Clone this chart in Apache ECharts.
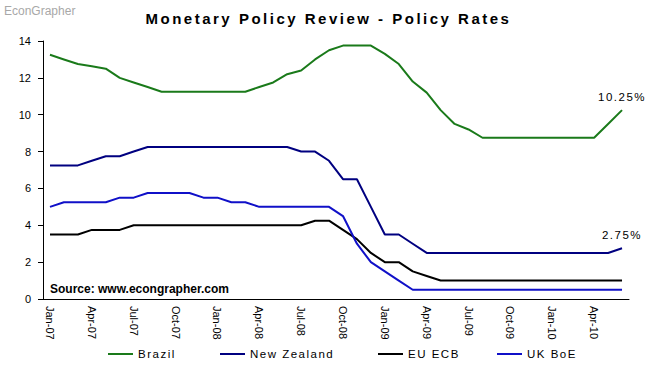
<!DOCTYPE html>
<html>
<head>
<meta charset="utf-8">
<script src="https://cdn.jsdelivr.net/npm/echarts@6/dist/echarts.min.js"></script>
<style>
html,body{margin:0;padding:0;background:#fff}
#c{width:657px;height:366px}
#c svg text[style*="15px"]{letter-spacing:2.5px}
#c svg text[style*="11.5px"]{letter-spacing:1.5px}
</style>
</head>
<body>
<div id="c"></div>
<script>
var categories = ["Jan-07","Feb-07","Mar-07","Apr-07","May-07","Jun-07","Jul-07","Aug-07","Sep-07","Oct-07","Nov-07","Dec-07",
"Jan-08","Feb-08","Mar-08","Apr-08","May-08","Jun-08","Jul-08","Aug-08","Sep-08","Oct-08","Nov-08","Dec-08",
"Jan-09","Feb-09","Mar-09","Apr-09","May-09","Jun-09","Jul-09","Aug-09","Sep-09","Oct-09","Nov-09","Dec-09",
"Jan-10","Feb-10","Mar-10","Apr-10","May-10","Jun-10"];
var brazil = [13.25,13.0,12.75,12.63,12.5,12.0,11.75,11.5,11.25,11.25,11.25,11.25,
11.25,11.25,11.25,11.5,11.75,12.2,12.4,13.0,13.5,13.75,13.75,13.75,
13.3,12.75,11.8,11.2,10.25,9.5,9.2,8.75,8.75,8.75,8.75,8.75,
8.75,8.75,8.75,8.75,9.5,10.25];
var newZealand = [7.25,7.25,7.25,7.5,7.75,7.75,8.0,8.25,8.25,8.25,8.25,8.25,
8.25,8.25,8.25,8.25,8.25,8.25,8.0,8.0,7.5,6.5,6.5,5.0,
3.5,3.5,3.0,2.5,2.5,2.5,2.5,2.5,2.5,2.5,2.5,2.5,
2.5,2.5,2.5,2.5,2.5,2.75];
var euEcb = [3.5,3.5,3.5,3.75,3.75,3.75,4.0,4.0,4.0,4.0,4.0,4.0,
4.0,4.0,4.0,4.0,4.0,4.0,4.0,4.25,4.25,3.75,3.25,2.5,
2.0,2.0,1.5,1.25,1.0,1.0,1.0,1.0,1.0,1.0,1.0,1.0,
1.0,1.0,1.0,1.0,1.0,1.0];
var ukBoe = [5.0,5.25,5.25,5.25,5.25,5.5,5.5,5.75,5.75,5.75,5.75,5.5,
5.5,5.25,5.25,5.0,5.0,5.0,5.0,5.0,5.0,4.5,3.0,2.0,
1.5,1.0,0.5,0.5,0.5,0.5,0.5,0.5,0.5,0.5,0.5,0.5,
0.5,0.5,0.5,0.5,0.5,0.5];
var seriesNames = ['Brazil','New Zealand','EU ECB','UK BoE'];
var endLabels = {"Brazil":"10.25%","New Zealand":"2.75%"};

var font = "Arial, 'Liberation Sans', sans-serif";
function mk(name, arr, color){
  var s = {name:name, type:'line', data:arr, showSymbol:false, symbol:'none',
    lineStyle:{color:color, width:2}, itemStyle:{color:color}, animation:false, z:3};
  if(endLabels[name]){
    var n = arr.length-1;
    s.markPoint = {symbol:'circle', symbolSize:1, itemStyle:{color:'rgba(0,0,0,0)'}, animation:false,
      data:[{coord:[categories[n], arr[n]],
        label:{show:true, position:'top', distance:7, formatter:endLabels[name],
          color:'#000', fontSize:11.5, fontFamily:font}}]};
  }
  return s;
}
function lg(name, left){
  return {data:[name], left:left, top:348, padding:0, itemWidth:25, itemHeight:2, itemGap:5, icon:'rect',
    textStyle:{fontFamily:font, fontSize:11.5, color:'#000', padding:[0,0,0,0]}};
}
var chart = echarts.init(document.getElementById('c'), null, {renderer:'svg'});
chart.setOption({
  animation:false,
  backgroundColor:'#fff',
  title:{text:'Monetary Policy Review - Policy Rates', left:'center', top:6,
    textStyle:{fontFamily:font, fontSize:15, fontWeight:'bold', color:'#000'}},
  graphic:[
    {type:'text', left:4, top:5, style:{text:'EconGrapher', fill:'#a8a8a8', font:'12px '+font}},
    {type:'text', left:50, top:283, style:{text:'Source: www.econgrapher.com', fill:'#000', font:'bold 12px '+font}}
  ],
  legend:[lg('Brazil',108), lg('New Zealand',220), lg('EU ECB',378), lg('UK BoE',497)],
  grid:{left:43, right:28, top:41, bottom:67, containLabel:false},
  xAxis:{type:'category', data:categories, boundaryGap:true,
    axisLine:{lineStyle:{color:'#000', width:1}},
    axisTick:{interval:2, length:6, lineStyle:{color:'#000'}},
    axisLabel:{interval:2, rotate:-90, color:'#000', fontSize:11, fontFamily:font, margin:7},
    splitLine:{show:false}},
  yAxis:{type:'value', min:0, max:14, interval:2,
    axisLine:{show:true, lineStyle:{color:'#000', width:1}},
    axisTick:{show:true, length:5, lineStyle:{color:'#000'}},
    axisLabel:{color:'#000', fontSize:11, fontFamily:font, margin:12},
    splitLine:{show:false}},
  series:[
    mk(seriesNames[0], brazil, '#1a7a1a'),
    mk(seriesNames[1], newZealand, '#000080'),
    mk(seriesNames[2], euEcb, '#000000'),
    mk(seriesNames[3], ukBoe, '#1010c8')
  ]
});
</script>
</body>
</html>
